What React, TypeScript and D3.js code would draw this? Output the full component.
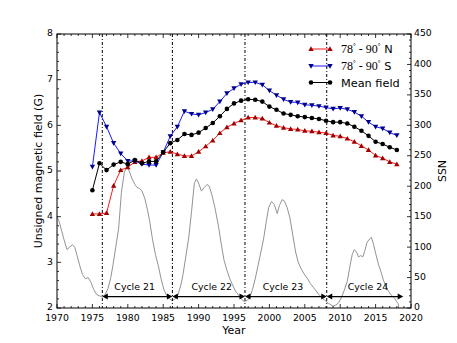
import React, { useEffect, useRef } from 'react';
import * as d3 from 'd3';

// yearly polar field values (G)
const years = [
  1975, 1976, 1977, 1978, 1979, 1980, 1981, 1982, 1983, 1984, 1985, 1986, 1987, 1988, 1989,
  1990, 1991, 1992, 1993, 1994, 1995, 1996, 1997, 1998, 1999, 2000, 2001, 2002, 2003, 2004,
  2005, 2006, 2007, 2008, 2009, 2010, 2011, 2012, 2013, 2014, 2015, 2016, 2017, 2018,
];
const northField = [
  4.06, 4.06, 4.08, 4.68, 5.02, 5.08, 5.2, 5.22, 5.3, 5.3, 5.4, 5.42, 5.37, 5.33, 5.33,
  5.42, 5.54, 5.67, 5.83, 5.96, 6.04, 6.11, 6.17, 6.17, 6.15, 6.06, 5.99, 5.95, 5.92, 5.91,
  5.88, 5.87, 5.85, 5.83, 5.78, 5.76, 5.71, 5.64, 5.55, 5.46, 5.34, 5.28, 5.2, 5.15,
];
const southField = [
  5.09, 6.28, 5.97, 5.61, 5.38, 5.22, 5.22, 5.15, 5.13, 5.13, 5.41, 5.76, 5.97, 6.31, 6.25,
  6.23, 6.28, 6.35, 6.52, 6.7, 6.81, 6.9, 6.94, 6.94, 6.89, 6.76, 6.66, 6.57, 6.51, 6.5,
  6.45, 6.44, 6.42, 6.39, 6.36, 6.38, 6.35, 6.29, 6.2, 6.07, 5.97, 5.93, 5.84, 5.78,
];
const meanField = [
  4.58, 5.17, 5.02, 5.14, 5.2, 5.15, 5.24, 5.17, 5.21, 5.21, 5.41, 5.61, 5.68, 5.81, 5.79,
  5.84, 5.94, 6.05, 6.2, 6.36, 6.48, 6.54, 6.57, 6.56, 6.52, 6.41, 6.34, 6.26, 6.23, 6.2,
  6.18, 6.16, 6.14, 6.1, 6.07, 6.07, 6.04, 5.97, 5.88, 5.77, 5.64, 5.59, 5.52, 5.46,
];

// smoothed sunspot number
const ssnTime = [
  1970.0, 1970.3, 1970.7, 1971.0, 1971.4, 1971.8, 1972.2, 1972.5, 1972.8, 1973.2, 1973.6, 1974.0,
  1974.4, 1974.8, 1975.2, 1975.6, 1976.0, 1976.4, 1976.8, 1977.2, 1977.6, 1977.9, 1978.3, 1978.7,
  1979.1, 1979.5, 1979.9, 1980.2, 1980.6, 1981.0, 1981.3, 1981.7, 1982.0, 1982.4, 1982.8, 1983.1,
  1983.5, 1983.9, 1984.3, 1984.7, 1985.1, 1985.5, 1985.9, 1986.3, 1986.7, 1987.1, 1987.5, 1987.8,
  1988.2, 1988.6, 1989.0, 1989.4, 1989.7, 1990.0, 1990.4, 1990.8, 1991.2, 1991.5, 1991.9, 1992.3,
  1992.8, 1993.2, 1993.6, 1994.0, 1994.4, 1994.8, 1995.2, 1995.6, 1996.0, 1996.4, 1996.8, 1997.2,
  1997.6, 1998.0, 1998.4, 1998.8, 1999.2, 1999.6, 1999.9, 2000.3, 2000.7, 2001.1, 2001.4, 2001.8,
  2002.1, 2002.5, 2002.9, 2003.3, 2003.7, 2004.1, 2004.5, 2004.9, 2005.4, 2005.8, 2006.2, 2006.6,
  2007.0, 2007.5, 2007.9, 2008.3, 2008.7, 2009.0, 2009.4, 2009.8, 2010.2, 2010.6, 2011.0, 2011.4,
  2011.7, 2012.0, 2012.3, 2012.6, 2012.9, 2013.2, 2013.5, 2013.8, 2014.2, 2014.4, 2014.7, 2015.0,
  2015.4, 2015.8, 2016.1, 2016.5, 2016.9, 2017.3, 2017.7, 2018.0, 2018.2, 2018.25,
];
const ssnValue = [
  150, 142, 125, 112, 96, 100, 104, 100, 88, 70, 55, 48,
  50, 42, 30, 22, 20, 18, 22, 32, 50, 70, 100, 130,
  190, 222, 234, 225, 212, 203, 198, 196, 192, 180, 160, 142,
  112, 88, 70, 48, 30, 20, 15, 12, 15, 22, 38, 55,
  85, 115, 158, 205, 212, 205, 192, 198, 203, 200, 185, 165,
  135, 105, 78, 62, 48, 38, 28, 22, 15, 11, 12, 16,
  30, 48, 70, 92, 115, 145, 165, 175, 170, 155, 168, 178,
  176, 165, 148, 120, 92, 74, 64, 56, 48, 40, 34, 28,
  22, 16, 12, 8, 5, 3, 5, 9, 18, 30, 44, 70,
  88, 96, 92, 84, 86, 84, 95, 108, 114, 116, 105, 90,
  72, 58, 46, 34, 26, 20, 16, 10, 7, 0,
];

const cycleBounds = [1976.4, 1986.3, 1996.55, 2008.1, 2018.9];
const cycleNames = ['Cycle 21', 'Cycle 22', 'Cycle 23', 'Cycle 24'];
const cycleLabelX = [1978.1, 1989.0, 1999.05, 2011.05];

const FONT = '"DejaVu Sans", sans-serif';

const App = () => {
  const ref = useRef<SVGSVGElement>(null);

  useEffect(() => {
    const svg = d3.select(ref.current);
    svg.selectAll('*').remove();

    const left = 57,
      right = 411,
      top = 34,
      bottom = 308;

    const x = d3.scaleLinear().domain([1970, 2020]).range([left, right]);
    const yL = d3.scaleLinear().domain([2, 8]).range([bottom, top]);
    const yR = d3.scaleLinear().domain([0, 450]).range([bottom, top]);

    const plot = svg.append('g');

    // sunspot number
    const ssnLine = d3
      .line<number>()
      .x((d, i) => x(ssnTime[i]))
      .y((d) => yR(d));
    plot
      .append('path')
      .attr('d', ssnLine(ssnValue))
      .attr('fill', 'none')
      .attr('stroke', '#939393')
      .attr('stroke-width', 1);

    // cycle boundaries
    cycleBounds.slice(0, 4).forEach((b) => {
      plot
        .append('line')
        .attr('x1', x(b))
        .attr('x2', x(b))
        .attr('y1', top)
        .attr('y2', bottom)
        .attr('stroke', 'black')
        .attr('stroke-width', 1)
        .attr('stroke-dasharray', '3,2,1,2');
    });

    // cycle arrows
    const ay = yL(2.25);
    const head = (tipX: number, dir: number) => {
      plot
        .append('polygon')
        .attr('points', [[tipX, ay], [tipX - dir * 5.5, ay - 3], [tipX - dir * 5.5, ay + 3]].join(' '))
        .attr('fill', 'black');
    };
    cycleNames.forEach((name, i) => {
      const x0 = x(cycleBounds[i]);
      const x1 = x(cycleBounds[i + 1]);
      plot
        .append('line')
        .attr('x1', x0 + 3)
        .attr('x2', x1 - 3)
        .attr('y1', ay)
        .attr('y2', ay)
        .attr('stroke', 'black')
        .attr('stroke-width', 1.2);
      head(x0, -1);
      head(x1, 1);
      plot
        .append('text')
        .attr('x', x(cycleLabelX[i]))
        .attr('y', ay - 6.5)
        .attr('font-family', FONT)
        .attr('font-size', 9.4)
        .text(name);
    });

    // markers
    const tri = (g: any, cx: number, cy: number, up: boolean, fill: string) => {
      const s = 2.7;
      const d = up ? 1 : -1;
      g.append('polygon')
        .attr('points', [[cx, cy - d * s], [cx - s, cy + d * s * 0.75], [cx + s, cy + d * s * 0.75]].join(' '))
        .attr('fill', fill);
    };

    const series = [
      { vals: northField, line: '#ff1a1a', mark: '#a00000', kind: 'up' },
      { vals: southField, line: '#1a1aff', mark: '#00008b', kind: 'down' },
      { vals: meanField, line: 'black', mark: 'black', kind: 'dot' },
    ];
    const fieldLine = d3
      .line<number>()
      .x((d, i) => x(years[i]))
      .y((d) => yL(d));

    series.forEach((s) => {
      plot
        .append('path')
        .attr('d', fieldLine(s.vals))
        .attr('fill', 'none')
        .attr('stroke', s.line)
        .attr('stroke-width', 1);
      s.vals.forEach((v, i) => {
        const cx = x(years[i]);
        const cy = yL(v);
        if (s.kind === 'dot') plot.append('circle').attr('cx', cx).attr('cy', cy).attr('r', 2.3).attr('fill', s.mark);
        else tri(plot, cx, cy, s.kind === 'up', s.mark);
      });
    });

    // legend
    const legendRows = [49, 66, 82.5];
    series.forEach((s, i) => {
      const ly = legendRows[i];
      plot
        .append('line')
        .attr('x1', 311)
        .attr('x2', 330)
        .attr('y1', ly)
        .attr('y2', ly)
        .attr('stroke', s.line)
        .attr('stroke-width', 1);
      [311, 330].forEach((lx) => {
        if (s.kind === 'dot') plot.append('circle').attr('cx', lx).attr('cy', ly).attr('r', 2.3).attr('fill', s.mark);
        else tri(plot, lx, ly, s.kind === 'up', s.mark);
      });
      const t = plot
        .append('text')
        .attr('x', 341)
        .attr('y', ly + 4)
        .attr('font-size', 11.3)
        .attr('font-family', FONT);
      if (s.kind === 'dot') {
        t.text('Mean field');
      } else {
        const serif = '"Liberation Serif", serif';
        t.append('tspan').attr('font-family', serif).attr('font-size', 12).text('78');
        t.append('tspan').attr('font-family', serif).attr('font-size', 7).attr('dy', -5).text('°');
        t.append('tspan').attr('font-family', serif).attr('font-size', 12).attr('dy', 5).text(' - 90');
        t.append('tspan').attr('font-family', serif).attr('font-size', 7).attr('dy', -5).text('°');
        t.append('tspan').attr('dy', 5).text(s.kind === 'up' ? ' N' : ' S');
      }
    });

    // frame
    const axes = svg.append('g');
    axes
      .append('rect')
      .attr('x', left)
      .attr('y', top)
      .attr('width', right - left)
      .attr('height', bottom - top)
      .attr('fill', 'none')
      .attr('stroke', 'black')
      .attr('stroke-width', 1);

    const tick = (x1: number, y1: number, x2: number, y2: number) => {
      axes.append('line').attr('x1', x1).attr('y1', y1).attr('x2', x2).attr('y2', y2).attr('stroke', 'black').attr('stroke-width', 0.8);
    };

    const TICK_FS = 9.3;

    // x ticks
    d3.range(1970, 2021, 1).forEach((yr) => {
      const major = yr % 5 === 0;
      const len = major ? 4 : 2;
      const px = x(yr);
      tick(px, bottom, px, bottom - len);
      tick(px, top, px, top + len);
      if (major) {
        axes
          .append('text')
          .attr('x', px)
          .attr('y', 321)
          .attr('text-anchor', 'middle')
          .attr('font-family', FONT)
          .attr('font-size', TICK_FS)
          .text(yr);
      }
    });

    // left ticks
    d3.range(2, 8.01, 0.2).forEach((v) => {
      const major = Math.abs(v - Math.round(v)) < 1e-6;
      const py = yL(v);
      tick(left, py, left + (major ? 4 : 2), py);
      if (major) {
        axes
          .append('text')
          .attr('x', 53)
          .attr('y', py + 2.4)
          .attr('text-anchor', 'end')
          .attr('font-family', FONT)
          .attr('font-size', TICK_FS)
          .text(Math.round(v));
      }
    });

    // right ticks
    d3.range(0, 451, 10).forEach((v) => {
      const major = v % 50 === 0;
      const py = yR(v);
      tick(right, py, right - (major ? 4 : 2), py);
      if (major) {
        axes
          .append('text')
          .attr('x', 414)
          .attr('y', py + 2.4)
          .attr('font-family', FONT)
          .attr('font-size', TICK_FS)
          .text(v);
      }
    });

    // axis titles
    axes
      .append('text')
      .attr('x', (left + right) / 2)
      .attr('y', 334)
      .attr('text-anchor', 'middle')
      .attr('font-family', FONT)
      .attr('font-size', 11)
      .text('Year');
    axes
      .append('text')
      .attr('transform', `translate(42,${(top + bottom) / 2}) rotate(-90)`)
      .attr('text-anchor', 'middle')
      .attr('font-family', FONT)
      .attr('font-size', 11)
      .text('Unsigned magnetic field (G)');
    axes
      .append('text')
      .attr('transform', `translate(446,${(top + bottom) / 2}) rotate(-90)`)
      .attr('text-anchor', 'middle')
      .attr('font-family', FONT)
      .attr('font-size', 11)
      .text('SSN');
  }, []);

  return (
    <svg
      ref={ref}
      width={457}
      height={343}
      style={{ position: 'absolute', left: 0, top: 0, background: 'white' }}
    />
  );
};

export default App;
